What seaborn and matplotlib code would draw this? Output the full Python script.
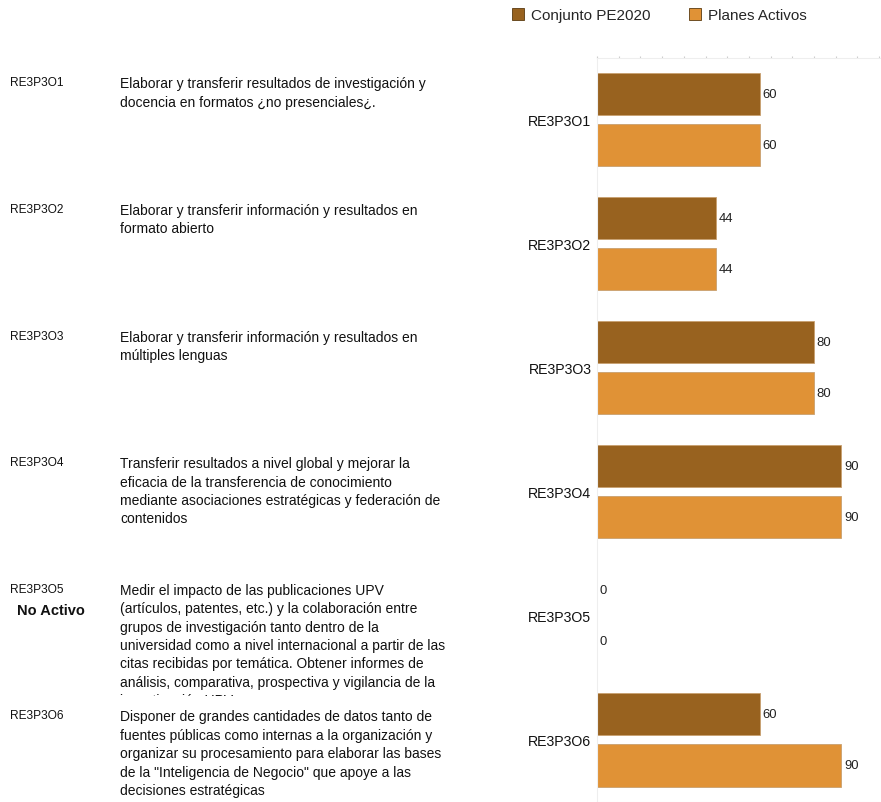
import pandas as pd
import numpy as np
import matplotlib
matplotlib.use("Agg")
import matplotlib.pyplot as plt
from matplotlib.transforms import Bbox, TransformedBbox
import seaborn as sns

# Data
codes = ["RE3P3O1", "RE3P3O2", "RE3P3O3", "RE3P3O4", "RE3P3O5", "RE3P3O6"]
conjunto = [60, 44, 80, 90, 0, 60]
activos = [60, 44, 80, 90, 0, 90]
series_names = ["Conjunto PE2020", "Planes Activos"]
descriptions = [
    "Elaborar y transferir resultados de investigación y\ndocencia en formatos ¿no presenciales¿.",
    "Elaborar y transferir información y resultados en\nformato abierto",
    "Elaborar y transferir información y resultados en\nmúltiples lenguas",
    "Transferir resultados a nivel global y mejorar la\neficacia de la transferencia de conocimiento\n"
    "mediante asociaciones estratégicas y federación de\ncontenidos",
    "Medir el impacto de las publicaciones UPV\n(artículos, patentes, etc.) y la colaboración entre\n"
    "grupos de investigación tanto dentro de la\nuniversidad como a nivel internacional a partir de las\n"
    "citas recibidas por temática. Obtener informes de\nanálisis, comparativa, prospectiva y vigilancia de la\n"
    "investigación UPV",
    "Disponer de grandes cantidades de datos tanto de\nfuentes públicas como internas a la organización y\n"
    "organizar su procesamiento para elaborar las bases\nde la \"Inteligencia de Negocio\" que apoye a las\n"
    "decisiones estratégicas",
]
inactive = ["", "", "", "", "No Activo", ""]

df = pd.DataFrame({
    "codigo": codes * 2,
    "valor": conjunto + activos,
    "serie": [series_names[0]] * len(codes) + [series_names[1]] * len(codes),
})

sns.set_style("white")
plt.rcParams["font.family"] = ["Liberation Sans", "DejaVu Sans"]

colors = ["#98621f", "#e09236"]

fig = plt.figure(figsize=(8.81, 8.03), dpi=100)
ax = fig.add_axes([597 / 881, 0, 284 / 881, 744.5 / 803])

sns.barplot(data=df, y="codigo", x="valor", hue="serie", palette=colors,
            orient="h", width=0.823, gap=0.175, ax=ax, legend=False, saturation=1,
            edgecolor="#c8a070", linewidth=0.6)

ax.set_xlim(0, 104.7)
ax.set_ylim(5.5, -0.5)
ax.set_xlabel("")
ax.set_ylabel("")
ax.set_xticks(np.arange(0, 105, 8))
ax.xaxis.set_ticks_position("top")
ax.tick_params(axis="x", bottom=False, labelbottom=False, top=True, labeltop=False,
               direction="out", length=1.5, color="#cccccc", width=0.8, pad=4)
ax.tick_params(axis="y", left=False, length=0, pad=4, labelsize=10.2, labelcolor="#111111")
for side in ["left", "top", "bottom"]:
    ax.spines[side].set_color("#eeeeee")
    ax.spines[side].set_linewidth(0.8)
ax.spines["right"].set_visible(False)

for cont in ax.containers:
    ax.bar_label(cont, fmt="%g", padding=2, fontsize=9.4, color="#222222")

# Legend
handles = [plt.Rectangle((0, 0), 1, 1, facecolor=c, edgecolor="#5a3a10", linewidth=0.6)
           for c in colors]
fig.legend(handles, series_names, loc="center left", bbox_to_anchor=(512 / 881, 1 - 16 / 803),
           ncol=2, frameon=False, fontsize=11, handlelength=0.8, handleheight=0.8,
           handletextpad=0.45, columnspacing=2.5, borderaxespad=0, borderpad=0)

# Left text columns
clip = TransformedBbox(Bbox([[0, 1 - 697 / 803], [0.6, 1]]), fig.transFigure)
for i, (code, desc, flag) in enumerate(zip(codes, descriptions, inactive)):
    y = 1 - (77.5 + i * 126.6) / 803
    fig.text(10 / 881, y, code, fontsize=8.6, va="top", ha="left", color="#111111")
    t = fig.text(120 / 881, y, desc, fontsize=10, va="top", ha="left",
                 color="#111111", linespacing=1.4)
    if i == 4:
        t.set_clip_box(clip)
        t.set_clip_on(True)
    if flag:
        fig.text(17 / 881, y - 20 / 803, flag, fontsize=10.5, fontweight="bold",
                 va="top", ha="left", color="#111111")

fig.savefig("out.png", dpi=100)
